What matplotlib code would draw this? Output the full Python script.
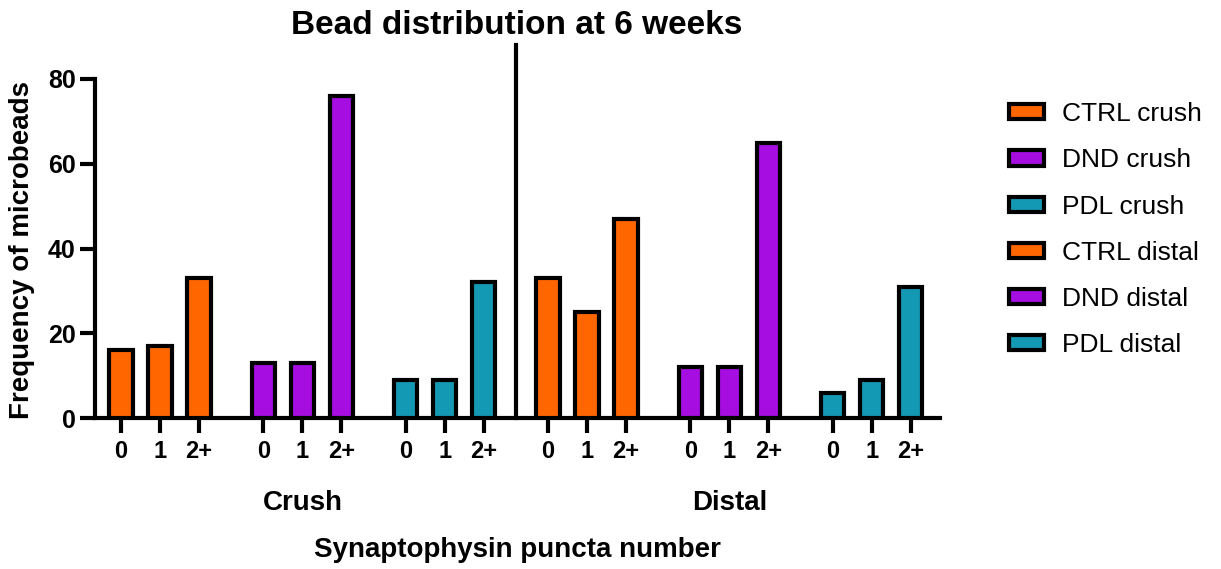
import matplotlib
matplotlib.use("Agg")
import matplotlib.pyplot as plt
from matplotlib.patches import Patch
import numpy as np

plt.rcParams['font.family'] = ['Liberation Sans', 'DejaVu Sans']

# data
puncta = ["0", "1", "2+"]
groups = ["CTRL crush", "DND crush", "PDL crush", "CTRL distal", "DND distal", "PDL distal"]
ctrl_crush = [16, 17, 33]
dnd_crush = [13, 13, 76]
pdl_crush = [9, 9, 32]
ctrl_distal = [33, 25, 47]
dnd_distal = [12, 12, 65]
pdl_distal = [6, 9, 31]
series = [ctrl_crush, dnd_crush, pdl_crush, ctrl_distal, dnd_distal, pdl_distal]
colors = ['#ff6600', '#a50de0', '#1499b4', '#ff6600', '#a50de0', '#1499b4']

fig = plt.figure(figsize=(12.21, 5.69), dpi=100)
ax = fig.add_axes([95/1221, (569-418)/569, (940-95)/1221, (418-79)/569])

group_step = 3.65
xticks, xlabels = [], []
for g, (vals, c) in enumerate(zip(series, colors)):
    x = g*group_step + np.arange(len(vals))
    ax.bar(x, vals, width=0.6, color=c, edgecolor='black', linewidth=3, zorder=3)
    xticks.extend(x)
    xlabels.extend(puncta)

ax.set_xlim(-0.67, 21.0)
ax.set_ylim(0, 80)
ax.set_yticks([0, 20, 40, 60, 80])
ax.set_xticks(xticks)
ax.set_xticklabels(xlabels)
for s in ['top', 'right']:
    ax.spines[s].set_visible(False)
for s in ['left', 'bottom']:
    ax.spines[s].set_linewidth(3)
ax.tick_params(axis='both', width=3, length=11)
ax.tick_params(axis='x', labelsize=17, pad=5)
ax.tick_params(axis='y', labelsize=18, pad=3)
for lab in ax.get_xticklabels() + ax.get_yticklabels():
    lab.set_fontweight('bold')

# separator between crush and distal
sep = (2*group_step + 2 + 3*group_step) / 2
ax.plot([sep, sep], [0, 88], color='black', lw=3, clip_on=False, zorder=4)

ax.text(group_step + 1, -20, "Crush", ha='center', va='center', fontsize=20, fontweight='bold')
ax.text(4*group_step + 1, -20, "Distal", ha='center', va='center', fontsize=20, fontweight='bold')

fig.text(517/1221, 1 - 550/569, "Synaptophysin puncta number", ha='center', va='center',
         fontsize=20, fontweight='bold')
fig.text(22/1221, 1 - 250/569, "Frequency of microbeads", ha='center', va='center',
         rotation=90, fontsize=20, fontweight='bold')
fig.text(517/1221, 1 - 25/569, "Bead distribution at 6 weeks", ha='center', va='center',
         fontsize=24, fontweight='bold')

handles = [Patch(facecolor=c, edgecolor='black', linewidth=3, label=l) for c, l in zip(colors, groups)]
fig.legend(handles=handles, loc='upper left', bbox_to_anchor=(996/1221, 1 - 89/569),
           frameon=False, fontsize=19, handlelength=1.3, handleheight=0.5,
           labelspacing=0.84, handletextpad=0.72, borderpad=0)

fig.savefig("out.png", dpi=100)
